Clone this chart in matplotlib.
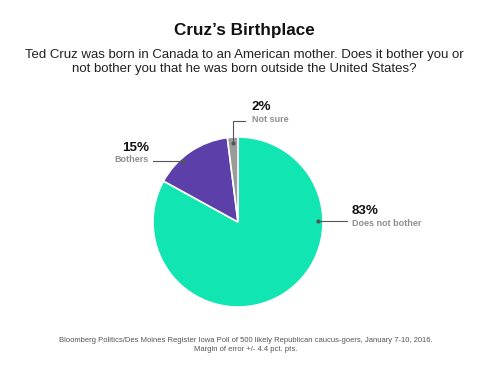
import numpy as np
import matplotlib
matplotlib.use("Agg")
from matplotlib import pyplot as plt

plt.rcParams['font.family'] = ['Liberation Sans', 'DejaVu Sans']

# poll data
labels = ['Does not bother', 'Bothers', 'Not sure']
values = [83, 15, 2]
colors = ['#11e5b1', '#5c3fa8', '#9b9b9b']

title = "Cruz’s Birthplace"
subtitle = ("Ted Cruz was born in Canada to an American mother. Does it bother you or\n"
            "not bother you that he was born outside the United States?")
footer = ("Bloomberg Politics/Des Moines Register Iowa Poll of 500 likely Republican caucus-goers, January 7-10, 2016.\n"
          "Margin of error +/- 4.4 pct. pts.")

W, H = 488, 369
fig = plt.figure(figsize=(W / 100, H / 100), dpi=100)

# pie centre and radius in pixels
cx, cy, r = 238, 222, 85
ax = fig.add_axes([(cx - r) / W, (H - cy - r) / H, 2 * r / W, 2 * r / H])
wedges, _ = ax.pie(values, colors=colors, startangle=90, counterclock=False,
                   wedgeprops=dict(edgecolor='white', linewidth=1.2))
ax.set_aspect('equal')
ax.set_xlim(-1, 1)
ax.set_ylim(-1, 1)

# overlay in pixel coordinates (y down)
ov = fig.add_axes([0, 0, 1, 1], zorder=5)
ov.set_xlim(0, W)
ov.set_ylim(H, 0)
ov.axis('off')

ov.text(W / 2, 30, title, ha='center', va='center', fontsize=12.3,
        fontweight='bold', color='#111111')
ov.text(W / 2, 62, subtitle, ha='center', va='center', fontsize=9.5,
        color='#222222', linespacing=1.15)
ov.text(W / 2 + 2, 345, footer, ha='center', va='center', fontsize=5.5,
        color='#555555', linespacing=1.4)

def pt(angle, rr):
    a = np.deg2rad(angle)
    return cx + rr * r * np.cos(a), cy - rr * r * np.sin(a)

line_c = '#555555'
pct_kw = dict(fontsize=9.6, fontweight='bold', color='#111111')
lab_kw = dict(fontsize=6.5, fontweight='bold', color='#8e8e8e')

# Does not bother
x0, y0 = pt(0.5, 0.94)
ov.plot([x0, 347], [y0, y0], color=line_c, lw=0.8)
ov.plot(x0, y0, 'o', ms=2, color=line_c)
ov.text(352, 211, f'{values[0]}%', ha='left', va='center', **pct_kw)
ov.text(352, 224, labels[0], ha='left', va='center', **lab_kw)

# Bothers
x1, y1 = pt(132, 0.96)
ov.plot([153, x1], [y1, y1], color=line_c, lw=0.8)
ov.plot(x1, y1, 'o', ms=2, color=line_c)
ov.text(149, 148, f'{values[1]}%', ha='right', va='center', **pct_kw)
ov.text(149, 160, labels[1], ha='right', va='center', **lab_kw)

# Not sure
x2, y2 = pt(93.6, 0.93)
ov.plot([245, x2, x2], [121, 121, y2], color=line_c, lw=0.8)
ov.plot(x2, y2, 'o', ms=2, color=line_c)
ov.text(252, 107, f'{values[2]}%', ha='left', va='center', **pct_kw)
ov.text(252, 120, labels[2], ha='left', va='center', **lab_kw)

fig.savefig('out.png', dpi=100, facecolor='white')
